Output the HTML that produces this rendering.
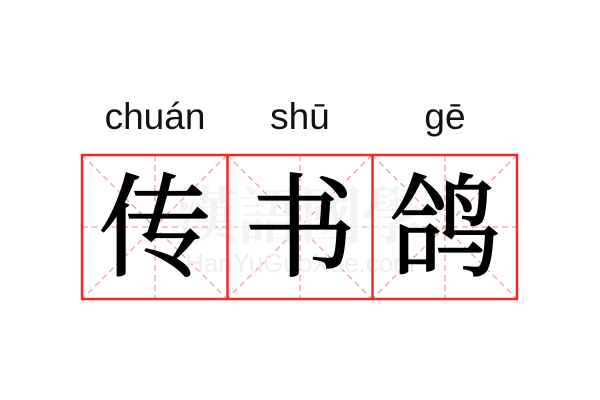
<!DOCTYPE html>
<html><head><style>
html,body{margin:0;padding:0;background:#fff;width:600px;height:400px;overflow:hidden}
</style></head><body>
<svg width="600" height="400" xmlns="http://www.w3.org/2000/svg">
<g font-family="Liberation Sans, DejaVu Sans, sans-serif" font-size="37" fill="#111" text-anchor="middle">
<text x="155" y="129">chuán</text>
<text x="300" y="129">shū</text>
<text x="445" y="129">gē</text>
</g>
<g stroke="#f3a0a0" stroke-width="1.3" stroke-dasharray="6,4" fill="none">
<line x1="82" y1="227" x2="517" y2="227"/>
<line x1="155" y1="155" x2="155" y2="299"/>
<line x1="300" y1="155" x2="300" y2="299"/>
<line x1="445" y1="155" x2="445" y2="299"/>
<line x1="82" y1="155" x2="227" y2="299"/><line x1="227" y1="155" x2="82" y2="299"/>
<line x1="227" y1="155" x2="372" y2="299"/><line x1="372" y1="155" x2="227" y2="299"/>
<line x1="372" y1="155" x2="517" y2="299"/><line x1="517" y1="155" x2="372" y2="299"/>
</g>
<g font-size="62" fill="#f3f3f3" font-weight="bold" text-anchor="middle">
<text x="300" y="238" font-family="Noto Serif CJK TC, serif">漢語國學</text>
</g>
<text x="300" y="272" font-family="Liberation Sans, sans-serif" font-size="26" fill="#eeeeee" text-anchor="middle">HanYuGuoXue.com</text>
<g stroke="#f02828" stroke-width="2.5" fill="none">
<rect x="82" y="155" width="435" height="144"/>
<line x1="227.5" y1="155" x2="227.5" y2="299"/>
<line x1="372.5" y1="155" x2="372.5" y2="299"/>
</g>
<g font-family="Noto Serif CJK SC, serif" font-size="112" fill="#000" stroke="#000" stroke-width="1.5" text-anchor="middle">
<text x="155" y="267">传</text>
<text x="300" y="267">书</text>
<text x="445" y="267">鸽</text>
</g>
</svg>
</body></html>
